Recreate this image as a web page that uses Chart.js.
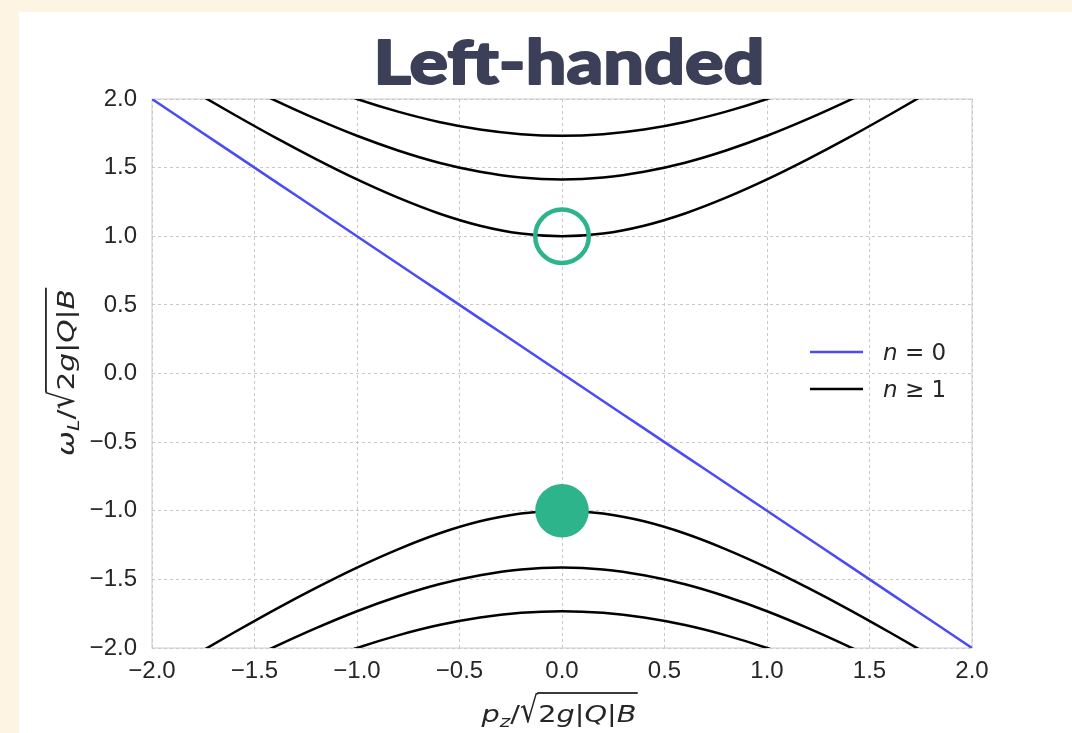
<!DOCTYPE html>
<html><head><meta charset="utf-8">
<script src="https://cdn.jsdelivr.net/npm/chart.js@4.4.1/dist/chart.umd.min.js"></script>
<style>html,body{margin:0;padding:0;background:#fdf4e3;overflow:hidden}canvas{display:block}</style>
</head><body>
<canvas id="c" width="1072" height="733"></canvas>
<script>
// ---------- data ----------
const titleText = 'Left-handed';
const xTicks = [-2, -1.5, -1, -0.5, 0, 0.5, 1, 1.5, 2];
const yTicks = [-2, -1.5, -1, -0.5, 0, 0.5, 1, 1.5, 2];
const legendLabels = ['n = 0', 'n ≥ 1'];
const pz = [-2.0,-1.8,-1.6,-1.4,-1.2,-1.0,-0.8,-0.6,-0.4,-0.2,0.0,0.2,0.4,0.6,0.8,1.0,1.2,1.4,1.6,1.8,2.0];
const omegaN0 = [2.0,1.8,1.6,1.4,1.2,1.0,0.8,0.6,0.4,0.2,0.0,-0.2,-0.4,-0.6,-0.8,-1.0,-1.2,-1.4,-1.6,-1.8,-2.0];
const omegaN1Up = [2.236,2.059,1.887,1.720,1.562,1.414,1.281,1.166,1.077,1.020,1.000,1.020,1.077,1.166,1.281,1.414,1.562,1.720,1.887,2.059,2.236];
const omegaN2Up = [2.449,2.289,2.135,1.990,1.855,1.732,1.625,1.536,1.470,1.428,1.414,1.428,1.470,1.536,1.625,1.732,1.855,1.990,2.135,2.289,2.449];
const omegaN3Up = [2.646,2.498,2.358,2.227,2.107,2.000,1.908,1.833,1.778,1.744,1.732,1.744,1.778,1.833,1.908,2.000,2.107,2.227,2.358,2.498,2.646];
const omegaN1Down = [-2.236,-2.059,-1.887,-1.720,-1.562,-1.414,-1.281,-1.166,-1.077,-1.020,-1.000,-1.020,-1.077,-1.166,-1.281,-1.414,-1.562,-1.720,-1.887,-2.059,-2.236];
const omegaN2Down = [-2.449,-2.289,-2.135,-1.990,-1.855,-1.732,-1.625,-1.536,-1.470,-1.428,-1.414,-1.428,-1.470,-1.536,-1.625,-1.732,-1.855,-1.990,-2.135,-2.289,-2.449];
const omegaN3Down = [-2.646,-2.498,-2.358,-2.227,-2.107,-2.000,-1.908,-1.833,-1.778,-1.744,-1.732,-1.744,-1.778,-1.833,-1.908,-2.000,-2.107,-2.227,-2.358,-2.498,-2.646];
const markerX = [0];
const openMarkerY = [1];
const filledMarkerY = [-1];

// ---------- styling ----------
const BLUE = '#4b4bf5', BLACK = '#000000', GREEN = '#2eb48b';
const TXT = '#262626';
const MF = '"DejaVu Sans", sans-serif';

const pts = (ys) => pz.map((x, i) => ({x, y: ys[i]}));
const curve = (label, ys, color) => ({
  label, data: pts(ys), showLine: true, borderColor: color, backgroundColor: color,
  borderWidth: 2.5, pointRadius: 0, pointHoverRadius: 0, cubicInterpolationMode: 'monotone', order: 1
});

const datasets = [
  curve(legendLabels[0], omegaN0, BLUE),
  curve(legendLabels[1], omegaN1Up, BLACK),
  curve('', omegaN2Up, BLACK),
  curve('', omegaN3Up, BLACK),
  curve('', omegaN1Down, BLACK),
  curve('', omegaN2Down, BLACK),
  curve('', omegaN3Down, BLACK),
  { label: 'open', data: markerX.map((x, i) => ({x, y: openMarkerY[i]})), showLine: false,
    pointRadius: 26.8, pointBorderWidth: 4.5, pointBorderColor: GREEN, pointBackgroundColor: 'rgba(0,0,0,0)', order: -1 },
  { label: 'filled', data: markerX.map((x, i) => ({x, y: filledMarkerY[i]})), showLine: false,
    pointRadius: 26.8, pointBorderWidth: 0, pointBorderColor: GREEN, pointBackgroundColor: GREEN, order: -1 }
];

function fontFor(t, size) {
  const s = t.sub ? size * 0.7 : size;
  return (t.it ? 'italic ' : '') + s + 'px ' + MF;
}
// draws math-like text; baseline at (x, baseline); optional target width (horizontal stretch)
function drawMath(ctx, toks, x, baseline, size, align, targetW, radTopK) {
  const items = toks.map(t => {
    if (t.rad) { ctx.font = size + 'px ' + MF; const m = ctx.measureText('√'); return {t, w: m.width, m}; }
    ctx.font = fontFor(t, size); return {t, w: ctx.measureText(t.t).width};
  });
  const total = items.reduce((a, b) => a + b.w, 0);
  const sx = targetW ? targetW / total : 1;
  const x0 = align === 'center' ? x - total * sx / 2 : x;
  ctx.save();
  ctx.translate(x0, baseline);
  ctx.scale(sx, 1);
  ctx.textBaseline = 'alphabetic';
  ctx.textAlign = 'left';
  let cx = 0, ovStart = null, ovEnd = null, radTop = null;
  for (const it of items) {
    const t = it.t;
    if (t.rad) {
      const asc = it.m.actualBoundingBoxAscent;
      const target = size * (radTopK || 1.3);
      const sy = target / asc;
      ctx.save(); ctx.translate(cx, 0); ctx.scale(1, sy);
      ctx.font = size + 'px ' + MF; ctx.fillText('√', 0, 0); ctx.restore();
      ovStart = cx + it.m.actualBoundingBoxRight - 1.2; radTop = -target;
    } else {
      ctx.font = fontFor(t, size);
      ctx.fillText(t.t, cx, t.sub ? size * 0.2 : 0);
      if (t.ovl) ovEnd = cx + it.w;
    }
    cx += it.w;
  }
  if (ovStart !== null && ovEnd !== null) ctx.fillRect(ovStart, radTop, ovEnd - ovStart + 1, 1.8);
  ctx.restore();
}
const sqrtPart = [{rad: 1}, {t: '2', ovl: 1}, {t: 'g', it: 1, ovl: 1}, {t: '|', ovl: 1}, {t: 'Q', it: 1, ovl: 1}, {t: '|', ovl: 1}, {t: 'B', it: 1, ovl: 1}];
const xTitle = [{t: 'p', it: 1}, {t: 'z', it: 1, sub: 1}, {t: '/'}].concat(sqrtPart);
const yTitle = [{t: 'ω', it: 1}, {t: 'L', it: 1, sub: 1}, {t: '/'}].concat(sqrtPart);

const decor = {
  id: 'decor',
  beforeDraw(chart) {
    const ctx = chart.ctx;
    ctx.save();
    ctx.fillStyle = '#fdf4e3'; ctx.fillRect(0, 0, chart.width, chart.height);
    ctx.fillStyle = '#ffffff'; ctx.fillRect(19, 12, chart.width - 19, chart.height - 12);
    ctx.restore();
  },
  beforeDatasetsDraw(chart) {
    const {ctx, chartArea: a} = chart;
    ctx.save(); ctx.strokeStyle = '#cccccc'; ctx.lineWidth = 1;
    ctx.strokeRect(a.left, a.top, a.right - a.left, a.bottom - a.top);
    ctx.restore();
  },
  afterDraw(chart) {
    const ctx = chart.ctx;
    const a = chart.chartArea;
    ctx.save();
    // title (heavy weight emulated with a thin outline)
    ctx.font = '900 60px Lato, "Open Sans", sans-serif';
    ctx.fillStyle = '#3c3f58'; ctx.strokeStyle = '#3c3f58';
    ctx.lineWidth = 1.8; ctx.lineJoin = 'round';
    ctx.textAlign = 'left'; ctx.textBaseline = 'alphabetic';
    const w = ctx.measureText(titleText).width;
    const tw = 391;
    ctx.save(); ctx.translate(569 - tw / 2, 84); ctx.scale(tw / w, 1);
    ctx.fillText(titleText, 0, 0); ctx.strokeText(titleText, 0, 0); ctx.restore();
    // axis titles
    ctx.fillStyle = TXT;
    drawMath(ctx, xTitle, 559, 722, 23, 'center', 155, 1.3);
    ctx.save(); ctx.translate(74, 372.5); ctx.rotate(-Math.PI / 2);
    drawMath(ctx, yTitle, 0, 0, 23, 'center', 167, 1.26);
    ctx.restore();
    // legend
    const rows = [352, 389];
    [0, 1].forEach(i => {
      const ds = chart.data.datasets[i];
      ctx.strokeStyle = ds.borderColor; ctx.lineWidth = 2.5;
      ctx.beginPath(); ctx.moveTo(810, rows[i]); ctx.lineTo(863, rows[i]); ctx.stroke();
      ctx.fillStyle = TXT;
      const parts = ds.label.split(' ');
      drawMath(ctx, [{t: parts[0], it: 1}, {t: ' ' + parts.slice(1).join(' ')}], 883, rows[i] + 8.4, 23, 'left');
    });
    ctx.restore();
  }
};

const fmt = v => (v < 0 ? '\u2212' : '') + Math.abs(v).toFixed(1);
const tickFont = {family: '"Liberation Sans", Arial, sans-serif', size: 24, lineHeight: 1.2};

new Chart(document.getElementById('c'), {
  type: 'scatter',
  data: {datasets},
  options: {
    responsive: false, animation: false, devicePixelRatio: 1,
    layout: {padding: {left: 0, right: 100, top: 99, bottom: 40}},
    plugins: {legend: {display: false}, tooltip: {enabled: false}, title: {display: false, text: titleText}},
    scales: {
      x: {
        type: 'linear', min: -2, max: 2,
        afterBuildTicks: s => { s.ticks = xTicks.map(v => ({value: v})); },
        afterFit: s => { s.height = 45; },
        ticks: {callback: fmt, color: TXT, font: tickFont, padding: 9, maxRotation: 0, autoSkip: false},
        grid: {color: '#c8c8c8', lineWidth: 1, drawTicks: false, borderDash: [3, 3]},
        border: {display: false, dash: [3, 3]}
      },
      y: {
        type: 'linear', min: -2, max: 2,
        afterBuildTicks: s => { s.ticks = yTicks.map(v => ({value: v})); },
        afterFit: s => { s.width = 152; },
        ticks: {callback: fmt, color: TXT, font: tickFont, padding: 15, autoSkip: false},
        grid: {color: '#c8c8c8', lineWidth: 1, drawTicks: false, borderDash: [3, 3]},
        border: {display: false, dash: [3, 3]}
      }
    }
  },
  plugins: [decor]
});
</script>
</body></html>
